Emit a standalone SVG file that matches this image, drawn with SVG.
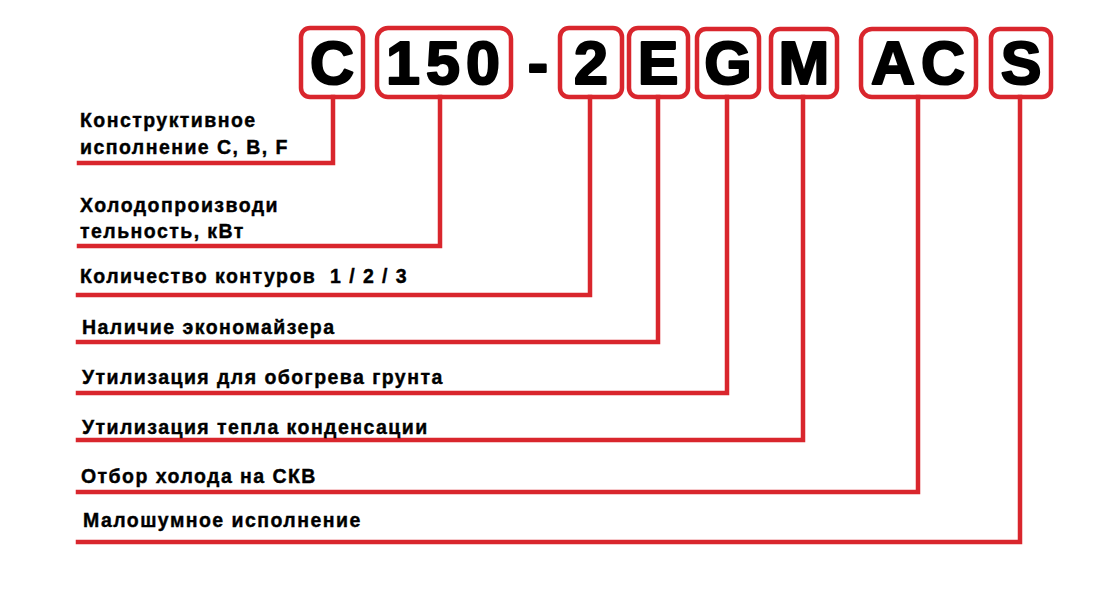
<svg xmlns="http://www.w3.org/2000/svg" width="1105" height="604" viewBox="0 0 1105 604">
<style>
.box{fill:none;stroke:#d9262d;stroke-width:4.5}
.big{font-family:"Liberation Sans",Arial,sans-serif;font-weight:bold;font-size:61px;fill:#000;stroke:#000;stroke-width:2.2;stroke-linejoin:round;text-anchor:middle}
.lbl{font-family:"Liberation Sans",Arial,sans-serif;font-weight:bold;font-size:19.5px;fill:#000;stroke:#000;stroke-width:0.4;letter-spacing:1.45px}
.ln{fill:none;stroke:#d9262d;stroke-width:4.5;stroke-linejoin:miter;stroke-linecap:square}
</style>
<rect width="1105" height="604" fill="#fff"/>
<g id="code">
<g id="n-C"><rect class="box" x="301" y="28" width="62" height="69" rx="9"/><text class="big" x="332" y="84">C</text></g>
<g id="n-150"><rect class="box" x="377" y="28" width="134" height="69" rx="11"/><text class="big" x="446" y="84" letter-spacing="6">150</text></g>
<text class="big" x="538" y="84">-</text>
<g id="n-2"><rect class="box" x="560" y="28" width="62" height="69" rx="9"/><text class="big" x="591" y="84">2</text></g>
<g id="n-E"><rect class="box" x="629" y="28" width="59" height="69" rx="9"/><text class="big" x="658" y="84">E</text></g>
<g id="n-G"><rect class="box" x="697" y="29" width="62" height="68" rx="9"/><text class="big" x="728" y="84">G</text></g>
<g id="n-M"><rect class="box" x="771" y="29" width="66" height="68" rx="9"/><text class="big" x="804" y="84">M</text></g>
<g id="n-AC"><rect class="box" x="861" y="29" width="115" height="68" rx="11"/><text class="big" x="921" y="84" letter-spacing="6">AC</text></g>
<g id="n-S"><rect class="box" x="991" y="29" width="60" height="68" rx="9"/><text class="big" x="1021" y="84">S</text></g>
</g>
<g id="connectors">
<path class="ln" d="M333 97 V163 H79"/>
<path class="ln" d="M440 97 V246 H79"/>
<path class="ln" d="M590 97 V295 H78"/>
<path class="ln" d="M658 97 V342 H78"/>
<path class="ln" d="M727 97 V393 H78"/>
<path class="ln" d="M803 97 V440 H78"/>
<path class="ln" d="M918 97 V492 H78"/>
<path class="ln" d="M1020 97 V542 H78"/>
</g>
<g id="labels">
<g id="l1"><text class="lbl" x="80" y="127">Конструктивное</text><text class="lbl" x="80" y="154">исполнение C, B, F</text></g>
<g id="l2"><text class="lbl" x="80" y="212">Холодопроизводи</text><text class="lbl" x="80" y="238">тельность, кВт</text></g>
<g id="l3"><text class="lbl" x="80" y="283" xml:space="preserve">Количество контуров  1 / 2 / 3</text></g>
<g id="l4"><text class="lbl" x="82" y="334">Наличие экономайзера</text></g>
<g id="l5"><text class="lbl" x="82" y="384">Утилизация для обогрева грунта</text></g>
<g id="l6"><text class="lbl" x="82" y="434">Утилизация тепла конденсации</text></g>
<g id="l7"><text class="lbl" x="81" y="483">Отбор холода на СКВ</text></g>
<g id="l8"><text class="lbl" x="83" y="527">Малошумное исполнение</text></g>
</g>
</svg>
